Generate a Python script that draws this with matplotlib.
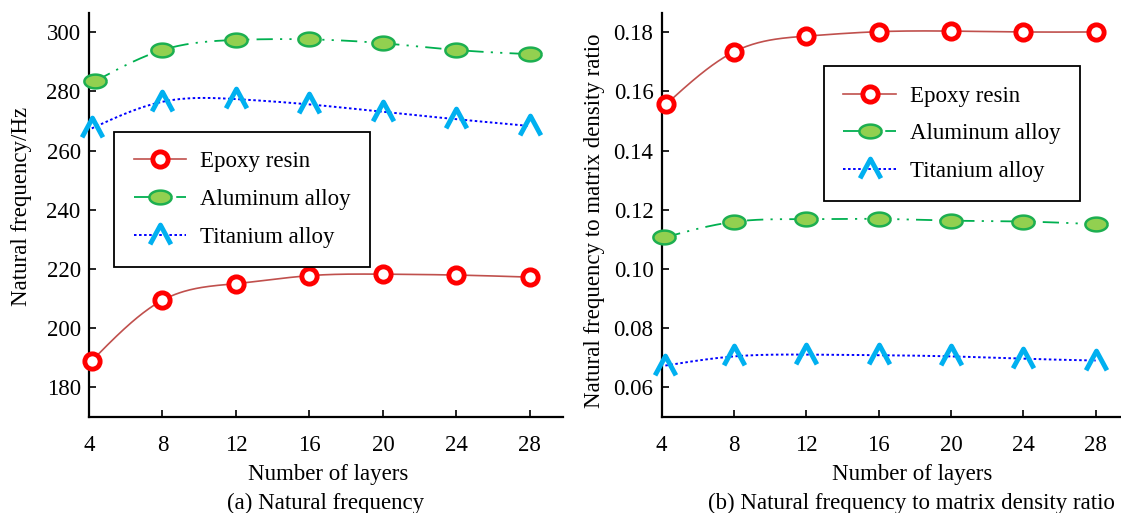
import numpy as np
import matplotlib
matplotlib.use("Agg")
import matplotlib.pyplot as plt
from matplotlib.path import Path
from matplotlib.lines import Line2D

# ---------------- data ----------------
layers_epoxy_a = [4.15, 8, 12, 16, 20, 24, 28]
layers_alu_a = [4.35, 8, 12, 16, 20, 24, 28]
layers_ti_a = [4.15, 8, 12, 16, 20, 24, 28]
freq_epoxy = [188.9, 209.4, 215.0, 217.7, 218.2, 217.9, 217.2]
freq_alu = [283.5, 294.0, 297.4, 297.6, 296.3, 294.0, 292.6]
freq_ti = [267.5, 276.5, 277.4, 275.6, 273.1, 270.6, 268.3]

layers_epoxy_b = [4.25, 8, 12, 16, 20, 24, 28]
layers_alu_b = [4.15, 8, 12, 16, 20, 24, 28]
layers_ti_b = [4.2, 8, 12, 16, 20, 24, 28]
ratio_epoxy = [0.1557, 0.1734, 0.1787, 0.1802, 0.1804, 0.1801, 0.1801]
ratio_alu = [0.1106, 0.1159, 0.1168, 0.1169, 0.1163, 0.1160, 0.1151]
ratio_ti = [0.0673, 0.0704, 0.0710, 0.0708, 0.0704, 0.0696, 0.0690]

series_names = ["Epoxy resin", "Aluminum alloy", "Titanium alloy"]
x_ticks = [4, 8, 12, 16, 20, 24, 28]
y_ticks_a = [180, 200, 220, 240, 260, 280, 300]
y_ticks_b = [0.06, 0.08, 0.10, 0.12, 0.14, 0.16, 0.18]
y_ticklabels_b = ["0.06", "0.08", "0.10", "0.12", "0.14", "0.16", "0.18"]

# ---------------- helpers ----------------
def natural_spline(x, y, n=300):
    x = np.asarray(x, float); y = np.asarray(y, float)
    m = len(x); h = np.diff(x)
    A = np.zeros((m, m)); r = np.zeros(m)
    A[0, 0] = 1; A[-1, -1] = 1
    for i in range(1, m - 1):
        A[i, i - 1] = h[i - 1]; A[i, i] = 2 * (h[i - 1] + h[i]); A[i, i + 1] = h[i]
        r[i] = 3 * ((y[i + 1] - y[i]) / h[i] - (y[i] - y[i - 1]) / h[i - 1])
    c = np.linalg.solve(A, r)
    b = (y[1:] - y[:-1]) / h - h * (2 * c[:-1] + c[1:]) / 3
    d = (c[1:] - c[:-1]) / (3 * h)
    xs = np.linspace(x[0], x[-1], n)
    idx = np.clip(np.searchsorted(x, xs) - 1, 0, m - 2)
    dx = xs - x[idx]
    ys = y[idx] + b[idx] * dx + c[idx] * dx ** 2 + d[idx] * dx ** 3
    return xs, ys

t = np.linspace(0, 2 * np.pi, 60)
ellipse_marker = Path(np.column_stack([1.0 * np.cos(t), 0.62 * np.sin(t)]))
caret_marker = Path([(-1.0, -0.85), (0, 1.0), (1.0, -0.85)],
                    [Path.MOVETO, Path.LINETO, Path.LINETO])

styles = [
    dict(line=dict(color="#C0504D", lw=1.2, ls="-"),
         mk=dict(marker="o", ms=11, mfc="white", mec="#FF0000", mew=3.5)),
    dict(line=dict(color="#00B050", lw=1.3, ls=(0, (9, 4, 1.2, 4, 1.2, 4))),
         mk=dict(marker=ellipse_marker, ms=16, mfc="#92D050", mec="#1DAF50", mew=1.8)),
    dict(line=dict(color="#0000FF", lw=1.4, ls=(0, (1.3, 1.3))),
         mk=dict(marker=caret_marker, ms=15, mfc="none", mec="#00B0F0", mew=3.5)),
]

plt.rcParams["font.family"] = ["Liberation Serif", "DejaVu Serif"]

fig = plt.figure(figsize=(11.21, 5.13), dpi=100)
ax1 = fig.add_axes([0.0794, 0.1877, 0.5022 - 0.0794, 0.974 - 0.1877])
ax2 = fig.add_axes([0.5903, 0.1877, 1.0 - 0.5903, 0.974 - 0.1877])

def draw(ax, xs_list, ys_list, ylim, yticks, yticklabels, xlim_max, ylabel,
         ylab_pos, xlab_pos, leg_anchor):
    handles = []
    for xs, ys, st, name in zip(xs_list, ys_list, styles, series_names):
        sx, sy = natural_spline(xs, ys)
        ax.plot(sx, sy, **st["line"], zorder=2)
        ax.plot(xs, ys, ls="none", **st["mk"], zorder=3, clip_on=False)
        handles.append(Line2D([], [], **st["line"], **st["mk"], label=name))
    ax.set_xlim(4, xlim_max)
    ax.set_ylim(*ylim)
    ax.set_xticks(x_ticks)
    ax.set_yticks(yticks)
    ax.set_yticklabels(yticklabels)
    for s in ["top", "right"]:
        ax.spines[s].set_visible(False)
    for s in ["left", "bottom"]:
        ax.spines[s].set_linewidth(1.6)
    ax.tick_params(direction="in", length=5, width=1.2, labelsize=16.5)
    ax.tick_params(axis="x", pad=13)
    ax.tick_params(axis="y", pad=6)
    ax.set_xlabel("Number of layers", fontsize=16.5)
    ax.set_ylabel(ylabel, fontsize=16.5)
    ax.xaxis.set_label_coords(*xlab_pos)
    ax.yaxis.set_label_coords(*ylab_pos)
    leg = ax.legend(handles=handles, loc="upper left", bbox_to_anchor=leg_anchor,
                    fontsize=16.5, frameon=True, fancybox=False, framealpha=1,
                    edgecolor="black", handlelength=2.3, handletextpad=0.6,
                    labelspacing=0.72, borderpad=0.85, borderaxespad=0)
    leg.get_frame().set_linewidth(1.3)

draw(ax1, [layers_epoxy_a, layers_alu_a, layers_ti_a], [freq_epoxy, freq_alu, freq_ti],
     (170, 306.4), y_ticks_a, [str(v) for v in y_ticks_a], 29.8,
     "Natural frequency/Hz", (-0.121, 0.522), (0.504, -0.117), (0.053, 0.706))
draw(ax2, [layers_epoxy_b, layers_alu_b, layers_ti_b], [ratio_epoxy, ratio_alu, ratio_ti],
     (0.05, 0.1864), y_ticks_b, y_ticklabels_b, 29.4,
     "Natural frequency to matrix density ratio", (-0.124, 0.487), (0.545, -0.117),
     (0.353, 0.869))

fig.text(0.29, 0.0195, "(a) Natural frequency", ha="center", va="center", fontsize=16.5)
fig.text(0.8127, 0.0195, "(b) Natural frequency to matrix density ratio",
         ha="center", va="center", fontsize=16.5)

fig.savefig("out.png", dpi=100)
